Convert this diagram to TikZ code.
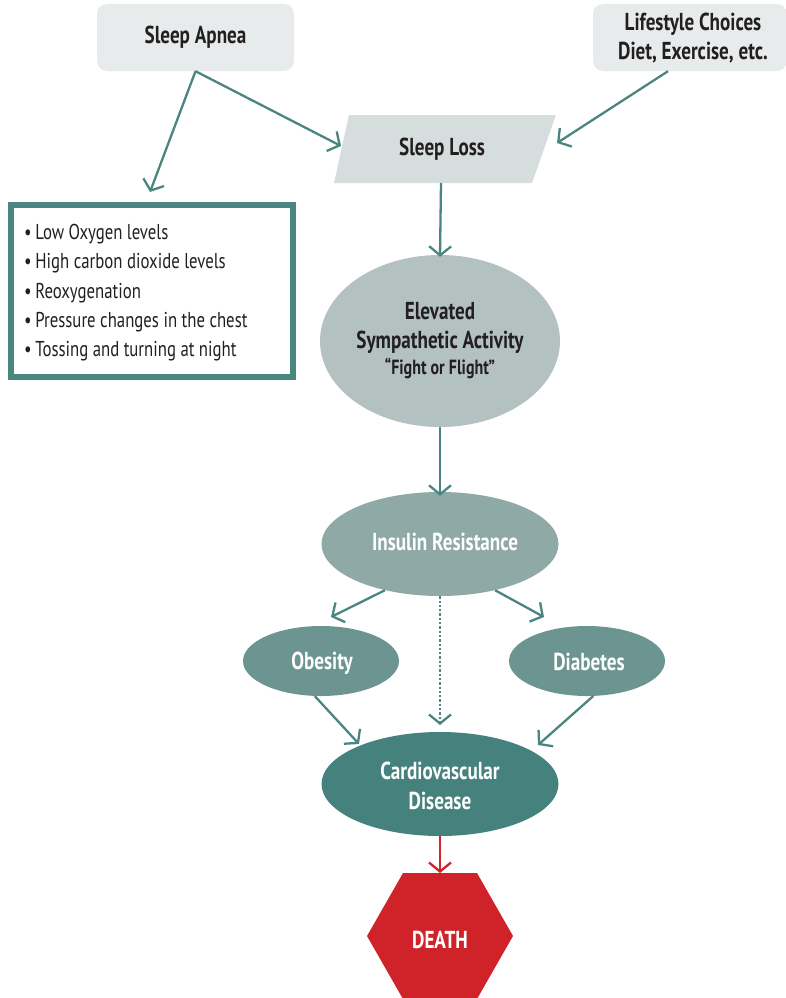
\documentclass[tikz,border=0pt]{standalone}
\usepackage{fontspec}
\setmainfont{PT Sans}[FakeStretch=0.78]
\usetikzlibrary{arrows.meta,shapes.geometric}
\definecolor{boxgray}{HTML}{E8EBEC}
\definecolor{lossgray}{HTML}{D5DEDD}
\definecolor{tealline}{HTML}{4A8580}
\definecolor{elevfill}{HTML}{B3C2C1}
\definecolor{insfill}{HTML}{8FA9A6}
\definecolor{obfill}{HTML}{6C9592}
\definecolor{cardfill}{HTML}{45817D}
\definecolor{deathred}{HTML}{CF2229}
\definecolor{darktext}{HTML}{231F20}
\newcommand\bigbold{\fontsize{24.5}{29.5}\selectfont\bfseries}
\tikzset{
  topbox/.style={fill=boxgray, rounded corners=10pt, text=darktext, font=\bigbold, align=center},
  oval/.style={ellipse, inner sep=0pt, align=center, font=\bigbold},
  link/.style={draw=tealline, line width=2.3pt, -{Straight Barb[length=9pt,width=22pt,line width=2.3pt]}},
  redlink/.style={draw=deathred, line width=2.3pt, -{Straight Barb[length=9pt,width=22pt,line width=2.3pt]}},
  dotlink/.style={draw=tealline, line width=2.3pt, dotted, -{Straight Barb[length=9pt,width=22pt,line width=2.3pt]}},
}
\begin{document}
\begin{tikzpicture}[x=1pt,y=-1pt]
\useasboundingbox (0,0) rectangle (785,998);
% top boxes
\node[topbox, minimum width=197pt, minimum height=67pt] (apnea) at (195.5,37.5) {Sleep Apnea};
\node[fill=boxgray, rounded corners=10pt, minimum width=194pt, minimum height=67pt] (life) at (690,37.5) {};
\node[font=\bigbold, text=darktext, align=center] (lifet) at (693,38) {Lifestyle Choices\\Diet, Exercise, etc.};
% sleep loss parallelogram
\fill[lossgray] (349,115) -- (556,115) -- (532,183) -- (334,183) -- cycle;
\node[font=\bigbold, text=darktext] (loss) at (442,149) {Sleep Loss};
\coordinate (lossL) at (341,146);
\coordinate (lossR) at (557,143);
\coordinate (lossB) at (441,183);
% bullet box
\node[draw=tealline, line width=6pt, minimum width=282pt, minimum height=172pt, inner sep=0pt] (list) at (152,291) {};
\node[anchor=north west, align=left, text=darktext, font=\fontsize{21.5}{29.3}\selectfont, inner sep=0pt] (items) at (24,224)
 {\textbullet\,Low Oxygen levels\\
  \textbullet\,High carbon dioxide levels\\
  \textbullet\,Reoxygenation\\
  \textbullet\,Pressure changes in the chest\\
  \textbullet\,Tossing and turning at night};
\coordinate (listT) at (150,192);
% ellipses
\node[oval, fill=elevfill, minimum width=240pt, minimum height=172pt, text=darktext] (elev) at (440,341) {};
\node[font=\bigbold, text=darktext, align=center] (elevt) at (440,328) {Elevated\\Sympathetic Activity};
\node[font=\fontsize{20.5}{24}\selectfont\bfseries, text=darktext] (fof) at (440,368) {“Fight or Flight”};
\node[oval, fill=insfill, minimum width=237pt, minimum height=104pt, text=white] (ins) at (440,544) {};
\node[font=\bigbold, text=white] (inst) at (445,542) {Insulin Resistance};
\node[oval, fill=obfill, minimum width=156pt, minimum height=70pt, text=white] (obes) at (321,661) {};
\node[font=\bigbold, text=white] (obest) at (322,663) {Obesity};
\node[oval, fill=obfill, minimum width=156pt, minimum height=70pt, text=white] (diab) at (587,661) {};
\node[font=\bigbold, text=white] (diabt) at (589,662) {Diabetes};
\node[oval, fill=cardfill, minimum width=237pt, minimum height=104pt, text=white] (card) at (440,784) {};
\node[font=\bigbold, text=white, align=center] (cardt) at (440,786) {Cardiovascular\\Disease};
% death hexagon
\fill[deathred] (403,873) -- (477,873) -- (513,936) -- (477,999) -- (403,999) -- (367,936) -- cycle;
\node[font=\bigbold, text=white] (death) at (440,940) {DEATH};
\coordinate (deathT) at (440,873);
% connectors
\draw[link] (apnea.south) -- (lossL);
\draw[link] (apnea.south) -- (listT);
\draw[link] ([xshift=-22pt]life.south) -- (lossR);
\draw[link] (lossB) -- ([yshift=-2pt]elev.north);
\draw[link] (elev.south) -- ([yshift=-4pt]ins.north);
\draw[link] (ins.220) -- (331,617);
\draw[link] (ins.-40) -- (544,617);
\draw[dotlink] (ins.south) -- (440,725);
\draw[link] (obes.-100) -- (359,744);
\draw[link] (diab.-80) -- (538,745);
\draw[redlink] (card.south) -- (deathT);
\end{tikzpicture}
\end{document}
